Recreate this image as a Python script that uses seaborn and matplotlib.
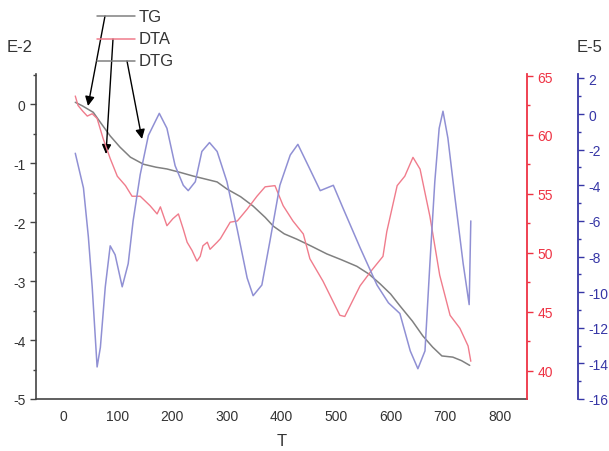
import matplotlib
matplotlib.use("Agg")
import matplotlib.pyplot as plt
import seaborn as sns
import pandas as pd
from matplotlib.ticker import MultipleLocator
from matplotlib.lines import Line2D

# ---------------- data ----------------
tg_T = [22, 35, 55, 68, 86, 104, 123, 147, 170, 190, 215, 238, 260, 282, 300, 325, 348, 370, 385,
        405, 428, 455, 483, 510, 538, 560, 581, 600, 617, 640, 659, 677, 694, 714, 730, 745]
tg_val = [0.03, -0.03, -0.14, -0.31, -0.54, -0.73, -0.90, -1.02, -1.07, -1.10, -1.16, -1.22,
          -1.27, -1.32, -1.44, -1.57, -1.73, -1.92, -2.07, -2.20, -2.29, -2.41, -2.54, -2.64,
          -2.75, -2.88, -3.05, -3.22, -3.42, -3.68, -3.93, -4.12, -4.27, -4.29, -4.35, -4.43]

dta_T = [22, 27, 36, 44, 53, 62, 73, 86, 99, 114, 126, 141, 150, 159, 172, 178, 190, 201, 211, 220,
         227, 236, 245, 251, 256, 264, 269, 282, 288, 306, 319, 337, 355, 370, 388, 403, 421, 440,
         452, 476, 507, 516, 530, 544, 565, 586, 593, 612, 626, 641, 654, 672, 690, 709, 727, 742,
         747]
dta_val = [63.3, 62.5, 62.0, 61.6, 61.8, 61.4, 59.7, 58.0, 56.5, 55.7, 54.8, 54.8, 54.4, 54.0, 53.3,
           53.9, 52.3, 52.9, 53.3, 52.0, 50.9, 50.2, 49.3, 49.7, 50.6, 50.9, 50.3, 50.9, 51.2, 52.6,
           52.7, 53.7, 54.8, 55.6, 55.7, 54.0, 52.7, 51.6, 49.5, 47.6, 44.7, 44.6, 45.9, 47.2, 48.5,
           49.7, 51.8, 55.7, 56.5, 58.1, 57.1, 53.1, 48.1, 44.7, 43.6, 42.1, 40.8]

dtg_T = [22, 37, 46, 53, 59, 62, 68, 77, 86, 95, 108, 119, 128, 141, 156, 176, 190, 205, 220, 229,
         242, 254, 268, 282, 300, 319, 337, 348, 364, 379, 397, 416, 430, 449, 471, 495, 513, 544,
         575, 596, 617, 636, 650, 663, 672, 681, 689, 696, 705, 718, 733, 744, 747]
dtg_val = [-2.2, -4.15, -6.9, -9.7, -12.7, -14.2, -13.1, -9.7, -7.4, -7.9, -9.7, -8.4, -6.0, -3.4,
           -1.2, 0.04, -0.8, -2.9, -4.0, -4.3, -3.8, -2.1, -1.6, -2.1, -3.8, -6.5, -9.2, -10.2,
           -9.6, -7.1, -4.0, -2.3, -1.7, -2.9, -4.3, -4.0, -5.3, -7.5, -9.6, -10.6, -11.2, -13.3,
           -14.3, -13.3, -8.4, -3.8, -0.8, 0.16, -1.35, -4.7, -8.4, -10.7, -6.0]

legend_labels = ["TG", "DTA", "DTG"]

# ---------------- styling ----------------
sns.set_style("white")
plt.rcParams["font.family"] = ["Liberation Sans", "DejaVu Sans"]
plt.rcParams["axes.unicode_minus"] = False

c_tg = "#808080"
c_dta = "#f07c8c"
c_dtg = "#9090d4"
c_red_axis = "#ee3344"
c_blue_axis = "#3636a6"
c_dark = "#333333"

W, H = 609, 452
fig = plt.figure(figsize=(W / 100, H / 100), dpi=100)
ax = fig.add_axes([36 / W, 52 / H, 491 / W, 325 / H])
ax_r = ax.twinx()
ax_b = ax.twinx()
ax_b.spines["right"].set_position(("axes", 542 / 491))

df_tg = pd.DataFrame({"T": tg_T, "v": tg_val})
df_dta = pd.DataFrame({"T": dta_T, "v": dta_val})
df_dtg = pd.DataFrame({"T": dtg_T, "v": dtg_val})

sns.lineplot(data=df_dtg, x="T", y="v", ax=ax_b, color=c_dtg, linewidth=1.1)
sns.lineplot(data=df_dta, x="T", y="v", ax=ax_r, color=c_dta, linewidth=1.0)
sns.lineplot(data=df_tg, x="T", y="v", ax=ax, color=c_tg, linewidth=1.1)

# main axis
ax.set_xlim(-50, 850)
ax.set_ylim(-5, 0.51)
ax.xaxis.set_major_locator(MultipleLocator(100))
ax.xaxis.set_minor_locator(MultipleLocator(50))
ax.yaxis.set_major_locator(MultipleLocator(1))
ax.yaxis.set_minor_locator(MultipleLocator(0.5))
ax.set_xlabel("T", fontsize=12, color=c_dark, labelpad=7)
ax.set_ylabel("")
for s in ["top", "right"]:
    ax.spines[s].set_visible(False)
for s in ["left", "bottom"]:
    ax.spines[s].set_color("#444444")
    ax.spines[s].set_linewidth(1.2)
ax.tick_params(which="major", direction="out", length=4, width=1, colors="#444444",
               labelcolor=c_dark, labelsize=10)
ax.tick_params(which="minor", direction="out", length=2.5, width=1, colors="#444444")

# red axis
ax_r.set_ylim(37.6, 65.17)
ax_r.yaxis.set_major_locator(MultipleLocator(5))
ax_r.yaxis.set_minor_locator(MultipleLocator(2.5))
ax_r.set_ylabel("")
for s in ["top", "left", "bottom"]:
    ax_r.spines[s].set_visible(False)
ax_r.spines["right"].set_color(c_red_axis)
ax_r.spines["right"].set_linewidth(1.3)
ax_r.tick_params(which="major", direction="out", length=4, width=1, colors=c_red_axis,
                 labelcolor=c_red_axis, labelsize=10)
ax_r.tick_params(which="minor", direction="out", length=2.5, width=1, colors=c_red_axis)

# blue axis
ax_b.set_ylim(-16, 2.25)
ax_b.yaxis.set_major_locator(MultipleLocator(2))
ax_b.yaxis.set_minor_locator(MultipleLocator(1))
ax_b.set_ylabel("")
for s in ["top", "left", "bottom"]:
    ax_b.spines[s].set_visible(False)
ax_b.spines["right"].set_color(c_blue_axis)
ax_b.spines["right"].set_linewidth(1.3)
ax_b.tick_params(which="major", direction="out", length=4, width=1, colors=c_blue_axis,
                 labelcolor=c_blue_axis, labelsize=10)
ax_b.tick_params(which="minor", direction="out", length=2.5, width=1, colors=c_blue_axis)

# axis scale labels
fig.text(20 / W, 1 - 47 / H, "E-2", ha="center", va="center", fontsize=12, color=c_dark)
fig.text(590 / W, 1 - 47 / H, "E-5", ha="center", va="center", fontsize=12, color=c_dark)

# manual legend
leg_colors = [c_tg, c_dta, c_tg]
leg_y = [17, 40, 62]
for lab, col, yy in zip(legend_labels, leg_colors, leg_y):
    fig.add_artist(Line2D([97 / W, 135 / W], [1 - yy / H, 1 - yy / H],
                          transform=fig.transFigure, color=col, linewidth=1.1))
    fig.text(139 / W, 1 - yy / H, lab, ha="left", va="center", fontsize=12, color=c_dark)

# arrows from legend to curves
arrows = [((105, 17), (88, 107)), ((113, 40), (106, 155)), ((127, 62), (142, 140))]
for (sx, sy), (tx, ty) in arrows:
    ax.annotate("", xy=(tx, H - ty), xycoords="figure pixels",
                xytext=(sx, H - sy), textcoords="figure pixels",
                arrowprops=dict(arrowstyle="-|>", color="black", lw=1.0,
                                mutation_scale=14, shrinkA=0, shrinkB=0))

fig.savefig("out.png", dpi=100)
